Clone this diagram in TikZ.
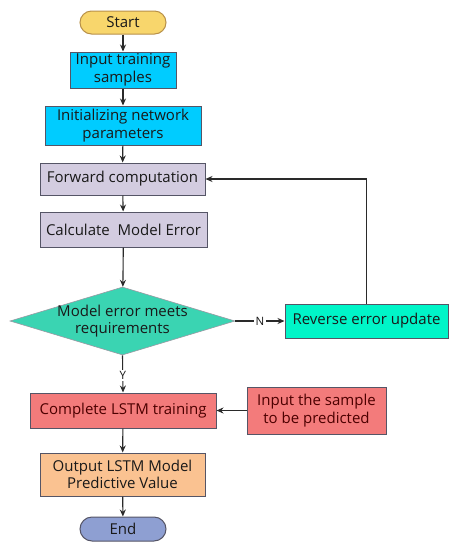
\documentclass[tikz,border=0pt]{standalone}
\usepackage{fontspec}
\setmainfont{Open Sans}
\usetikzlibrary{shapes.geometric,arrows.meta}
\definecolor{cstart}{HTML}{F8D66C}
\definecolor{cstartb}{HTML}{B89048}
\definecolor{ccyan}{HTML}{00CCFF}
\definecolor{clav}{HTML}{D3CCE0}
\definecolor{cdia}{HTML}{3AD4B2}
\definecolor{crev}{HTML}{00F5C8}
\definecolor{cred}{HTML}{F37B7B}
\definecolor{corange}{HTML}{FAC291}
\definecolor{cend}{HTML}{8E9FD2}
\definecolor{cline}{HTML}{2A2A2A}
\definecolor{cborder}{HTML}{555566}
\begin{document}
\begin{tikzpicture}[x=1pt,y=1pt,
  every node/.style={font=\fontsize{15}{17.5}\selectfont, text=black!90, inner sep=0pt, align=center},
  boxb/.style={draw=cborder, line width=1pt, rectangle, minimum width=#1},
  conn/.style={draw=cline, line width=1.1pt, -{Stealth[length=7pt,width=6pt]}},
  lab/.style={fill=white, inner sep=1.5pt, font=\fontsize{11.5}{13}\selectfont}
]
\useasboundingbox (0,0) rectangle (456,-550);
\fill[white] (0,0) rectangle (456,-550);
\node[draw=cstartb, line width=1pt, fill=cstart, rounded corners=11.5pt, minimum width=86pt, minimum height=23pt] (start) at (123,-22.5) {Start};
\node[boxb=106pt, fill=ccyan, minimum height=36pt] (inp) at (123,-70) {Input training\\samples};
\node[boxb=156pt, fill=ccyan, minimum height=39pt] (init) at (123,-125.5) {Initializing network\\parameters};
\node[boxb=165pt, fill=clav, minimum height=32pt] (fwd) at (122.5,-179) {Forward computation};
\node[boxb=167pt, fill=clav, minimum height=35pt] (calc) at (123.5,-229.5) {Calculate~~Model Error};
\node[diamond, draw=cborder!60, line width=0.6pt, fill=cdia, minimum width=225pt, minimum height=68pt] (dia) at (122.5,-321) {};
\node (diat) at (122.5,-321) {Model error meets\\requirements};
\node[boxb=163pt, fill=crev, minimum height=34pt] (rev) at (366.5,-321) {Reverse error update};
\node[boxb=186pt, fill=cred, minimum height=35pt, text=red!30!black] (comp) at (123,-410.5) {Complete LSTM training};
\node[boxb=139pt, fill=cred, minimum height=47pt, text=red!30!black] (pred) at (316.5,-410.5) {Input the sample\\to be predicted};
\node[boxb=165pt, fill=corange, minimum height=43pt] (out) at (122.5,-474.5) {Output LSTM Model\\Predictive Value};
\node[draw=cborder, line width=1pt, fill=cend, rounded corners=12pt, minimum width=86pt, minimum height=24pt] (end) at (123,-529) {End};
\draw[conn] (start) -- (inp);
\draw[conn] (inp) -- (init);
\draw[conn] (init) -- (fwd);
\draw[conn] (fwd) -- (calc);
\draw[conn] (calc) -- (dia);
\draw[conn] (dia) -- node[lab] {N} (rev);
\draw[conn] (rev.north) |- (fwd.east);
\draw[conn] (dia.south) -- node[lab, pos=0.55] {Y} (comp.north);
\draw[conn] (pred) -- (comp);
\draw[conn] (comp) -- (out);
\draw[conn] (out) -- (end);
\end{tikzpicture}
\end{document}
